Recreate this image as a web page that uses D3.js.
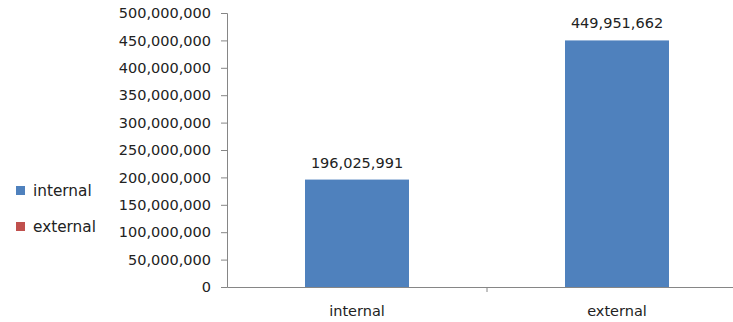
<!DOCTYPE html>
<html><head><meta charset="utf-8">
<script src="https://cdn.jsdelivr.net/npm/d3@7"></script>
<style>
body{margin:0;background:#fff;}
text{font-family:"DejaVu Sans",sans-serif;fill:#222;}
</style></head>
<body>
<svg id="c" width="733" height="322"></svg>
<script>
const categories = ["internal", "external"];
const values = [196025991, 449951662];
const legendLabels = ["internal", "external"];
const legendColors = ["#4F81BD", "#C0504D"];
const yTicks = [0, 50000000, 100000000, 150000000, 200000000, 250000000, 300000000, 350000000, 400000000, 450000000, 500000000];

(function () {
const svg = d3.select("#c");
const mLeft = 227, mRight = 747, mTop = 13, mBottom = 287;
const fs = "14.5px";

const x = d3.scaleBand().domain(categories).range([mLeft, mRight]).paddingInner(0.6).paddingOuter(0.3);
const y = d3.scaleLinear().domain([0, 500000000]).range([mBottom, mTop]);
const fmt = d3.format(",");
const axisColor = "#868686";

// y axis
const ya = svg.append("g").attr("transform", `translate(${mLeft},0)`)
  .call(d3.axisLeft(y).tickValues(yTicks).tickFormat(d => fmt(d)).tickSize(6).tickPadding(10));
ya.select(".domain").attr("stroke", axisColor);
ya.selectAll(".tick line").attr("stroke", axisColor);
ya.selectAll("text").style("font-size", fs).attr("fill", "#222");

// bars
svg.append("g").selectAll("rect").data(values).join("rect")
  .attr("x", (d, i) => x(categories[i]))
  .attr("width", x.bandwidth())
  .attr("y", d => y(d))
  .attr("height", d => y(0) - y(d))
  .attr("fill", "#4F81BD");

// value labels
svg.append("g").selectAll("text").data(values).join("text")
  .attr("x", (d, i) => x(categories[i]) + x.bandwidth() / 2)
  .attr("y", d => y(d) - 12)
  .attr("text-anchor", "middle")
  .style("font-size", fs)
  .text(d => fmt(d));

// x axis
const xa = svg.append("g").attr("transform", `translate(0,${mBottom})`)
  .call(d3.axisBottom(x).tickSize(0).tickPadding(19));
xa.select(".domain").attr("stroke", axisColor);
xa.selectAll("text").style("font-size", fs).attr("fill", "#222");
// separator ticks between categories
const sepX = [mLeft + x.step(), mRight];
svg.append("g").selectAll("line").data(sepX).join("line")
  .attr("x1", d => d).attr("x2", d => d)
  .attr("y1", mBottom).attr("y2", mBottom + 5)
  .attr("stroke", axisColor);

// legend
const lg = svg.append("g").attr("transform", "translate(16,186)");
const items = lg.selectAll("g").data(legendLabels).join("g")
  .attr("transform", (d, i) => `translate(0,${i * 36})`);
items.append("rect").attr("width", 9).attr("height", 9).attr("fill", (d, i) => legendColors[i]);
items.append("text").attr("x", 17).attr("y", 4.5).attr("dy", "0.35em")
  .style("font-size", "15.3px").text(d => d);
})();
</script>
</body></html>
